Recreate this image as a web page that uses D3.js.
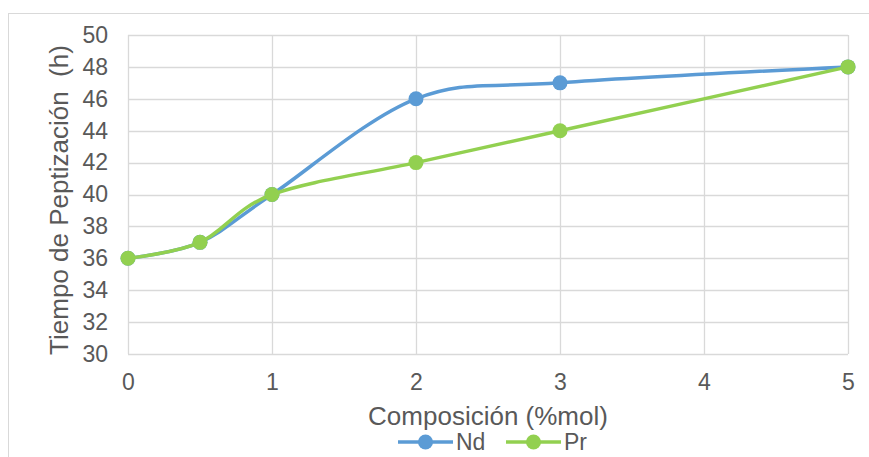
<!DOCTYPE html>
<html>
<head>
<meta charset="utf-8">
<script src="https://cdn.jsdelivr.net/npm/d3@7/dist/d3.min.js"></script>
<style>
  html, body { margin: 0; padding: 0; background: #fff; }
  svg { display: block; }
  text { font-family: "Liberation Sans", Arial, sans-serif; fill: #595959; }
</style>
</head>
<body>
<svg id="chart" width="869" height="457"></svg>
<script>
// Composition (%mol) and peptization time (h) for each dopant
const composicion = [0, 0.5, 1, 2, 3, 5];
const tiempoNd = [36, 37, 40, 46, 47, 48];
const tiempoPr = [36, 37, 40, 42, 44, 48];
const xTicks = [0, 1, 2, 3, 4, 5];
const yTicks = [30, 32, 34, 36, 38, 40, 42, 44, 46, 48, 50];
const seriesNames = ["Nd", "Pr"];
const seriesColors = ["#5B9BD5", "#92D050"];

const svg = d3.select("#chart");
const W = 869, H = 457;
const plot = { left: 128, right: 848, top: 35, bottom: 354 };

// outer chart frame
svg.append("rect")
  .attr("x", 8.5).attr("y", 13.5)
  .attr("width", W + 20).attr("height", H + 20)
  .attr("fill", "none").attr("stroke", "#d9d9d9").attr("stroke-width", 1);

const x = d3.scaleLinear().domain([0, 5]).range([plot.left, plot.right]);
const y = d3.scaleLinear().domain([30, 50]).range([plot.bottom, plot.top]);

// gridlines
const grid = svg.append("g").attr("stroke", "#d9d9d9").attr("stroke-width", 1.3);
grid.selectAll("line.h").data(yTicks).join("line")
  .attr("x1", plot.left).attr("x2", plot.right)
  .attr("y1", d => Math.round(y(d)) + 0.5).attr("y2", d => Math.round(y(d)) + 0.5);
grid.selectAll("line.v").data(xTicks).join("line")
  .attr("y1", plot.top).attr("y2", plot.bottom)
  .attr("x1", d => Math.round(x(d)) + 0.5).attr("x2", d => Math.round(x(d)) + 0.5);

// axes (labels only, Excel-style)
const yAxis = svg.append("g")
  .attr("transform", `translate(${plot.left},0)`)
  .call(d3.axisLeft(y).tickValues(yTicks).tickSize(0).tickPadding(20));
yAxis.select(".domain").remove();
yAxis.selectAll("text").style("font-size", "23px").attr("fill", "#595959")
  .attr("font-family", "Liberation Sans, Arial, sans-serif");

const xAxis = svg.append("g")
  .attr("transform", `translate(0,${plot.bottom})`)
  .call(d3.axisBottom(x).tickValues(xTicks).tickFormat(d3.format("d")).tickSize(0).tickPadding(20));
xAxis.select(".domain").remove();
xAxis.selectAll("text").style("font-size", "23px").attr("fill", "#595959")
  .attr("font-family", "Liberation Sans, Arial, sans-serif");

// axis titles
svg.append("text")
  .attr("x", (plot.left + plot.right) / 2).attr("y", 425)
  .attr("text-anchor", "middle").style("font-size", "26px")
  .text("Composición (%mol)");

svg.append("text")
  .attr("transform", "translate(68,200) rotate(-90)")
  .attr("text-anchor", "middle").style("font-size", "26px")
  .attr("xml:space", "preserve")
  .text("Tiempo de Peptización  (h)");

// series
const series = [tiempoNd, tiempoPr];
const line = d3.line()
  .x((d, i) => x(composicion[i]))
  .y(d => y(d))
  .curve(d3.curveCardinal.tension(0));

series.forEach((vals, s) => {
  const g = svg.append("g");
  g.append("path").datum(vals)
    .attr("d", line)
    .attr("fill", "none")
    .attr("stroke", seriesColors[s])
    .attr("stroke-width", 3.5)
    .attr("stroke-linecap", "round");
  g.selectAll("circle").data(vals).join("circle")
    .attr("cx", (d, i) => x(composicion[i]))
    .attr("cy", d => y(d))
    .attr("r", 7.5)
    .attr("fill", seriesColors[s]);
});

// legend
const legendX = [398, 506];
const legendY = 442;
seriesNames.forEach((name, s) => {
  const g = svg.append("g").attr("transform", `translate(${legendX[s]},${legendY})`);
  g.append("line").attr("x1", 0).attr("x2", 55).attr("y1", 0).attr("y2", 0)
    .attr("stroke", seriesColors[s]).attr("stroke-width", 3.5);
  g.append("circle").attr("cx", 27.5).attr("cy", 0).attr("r", 7.5).attr("fill", seriesColors[s]);
  g.append("text").attr("x", 58).attr("y", 8).style("font-size", "23px").text(name);
});
</script>
</body>
</html>
